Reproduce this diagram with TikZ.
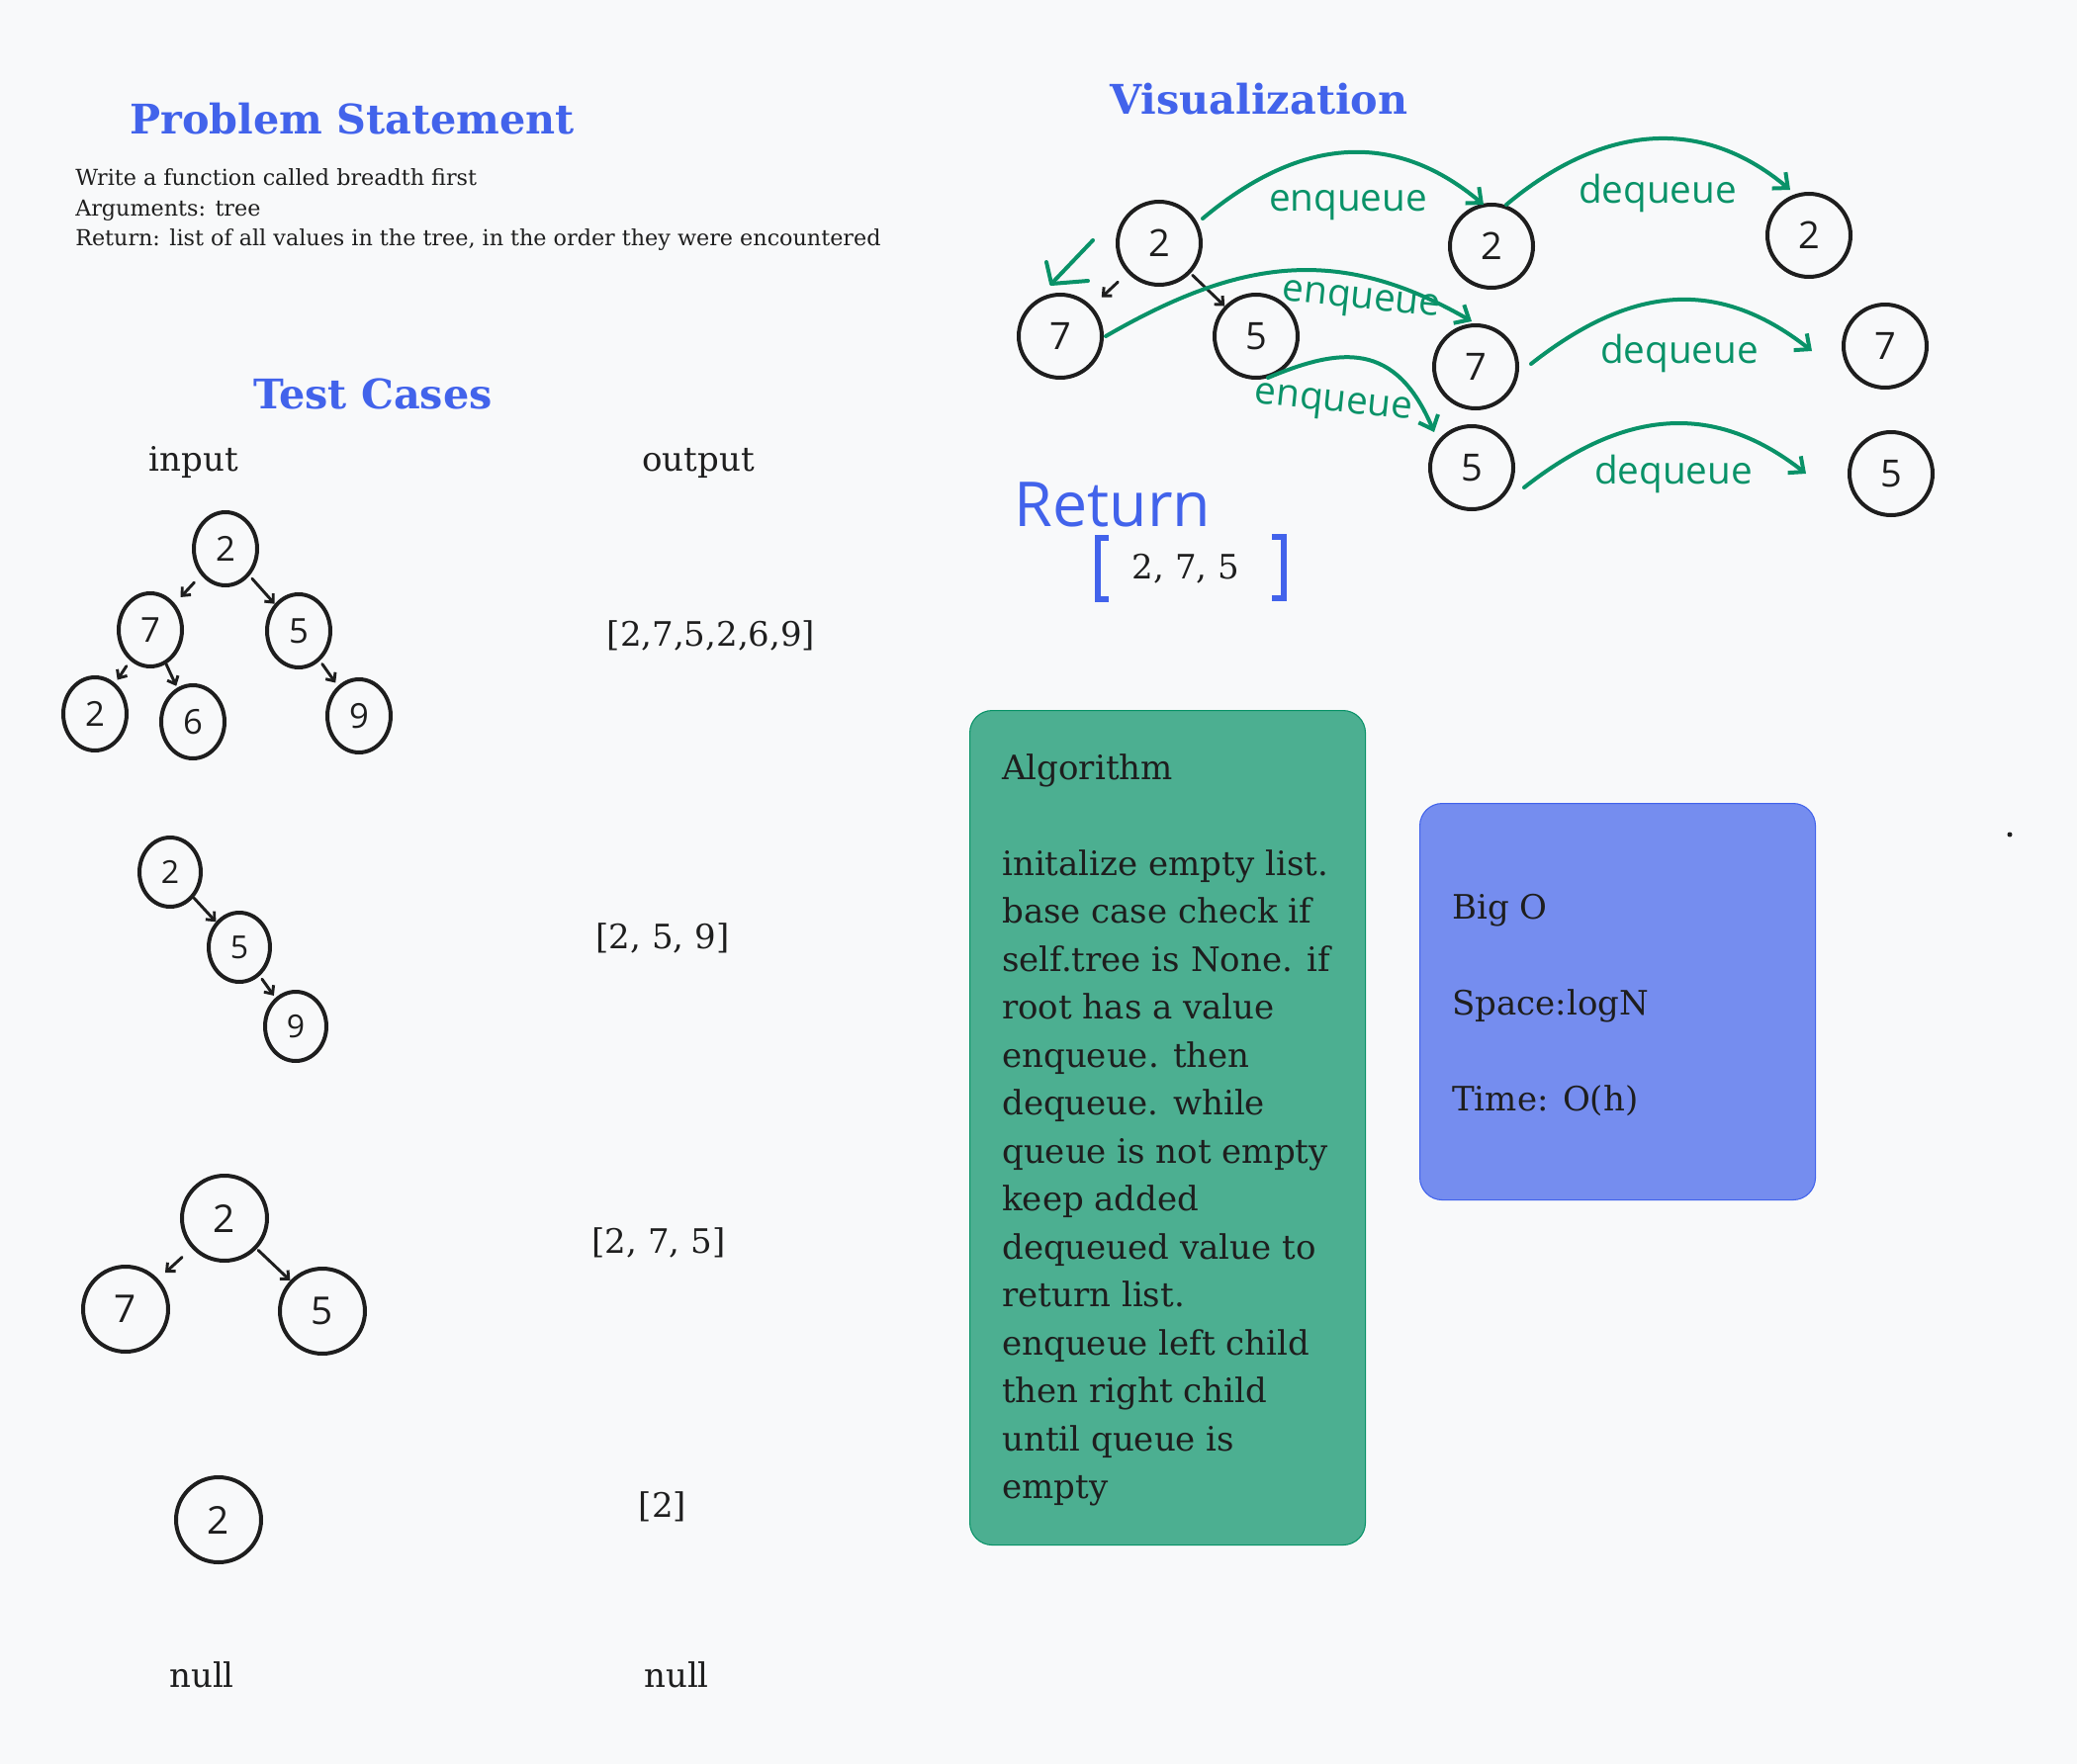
\documentclass[tikz,border=0pt]{standalone}
\usepackage{fontspec}
\setmainfont{DejaVu Serif}
\newfontfamily\headfont{DejaVu Serif}
\newfontfamily\handfont{Open Sans}
\usetikzlibrary{shapes.geometric,arrows.meta,calc}

\definecolor{pagebg}{RGB}{248,249,250}
\definecolor{ink}{RGB}{30,30,30}
\definecolor{headblue}{RGB}{66,99,235}
\definecolor{penteal}{RGB}{9,146,104}

\tikzset{
  bubble/.style={draw=ink, line width=3pt, inner sep=0pt, text=ink},
  tnode/.style={bubble, ellipse, minimum width=48pt, minimum height=55.5pt, font=\handfont\fontsize{26}{26}\selectfont},
  snode/.style={bubble, ellipse, minimum width=46.5pt, minimum height=52.5pt, font=\handfont\fontsize{24}{24}\selectfont},
  bnode/.style={bubble, circle, minimum size=64.5pt, font=\handfont\fontsize{29}{29}\selectfont},
  vnode/.style={bubble, circle, minimum size=63pt, font=\handfont\fontsize{28.5}{28.5}\selectfont},
  kid/.style={draw=ink, line width=2.2pt, line cap=round, -{Straight Barb[length=5pt,width=9pt]}},
  sweep/.style={draw=penteal, line width=3pt, line cap=round, -{Straight Barb[length=9pt,width=16pt]}},
  penline/.style={draw=penteal, line width=3pt, line cap=round, line join=round},
  heading/.style={text=headblue, inner sep=0pt, font=\headfont\bfseries\fontsize{31}{37}\selectfont},
  smalltxt/.style={text=ink, inner sep=0pt, anchor=base west, font=\fontsize{16.7}{24}\selectfont},
  bigtxt/.style={text=ink, inner sep=0pt, anchor=base west, font=\fontsize{25.5}{36}\selectfont},
  scrawl/.style={text=penteal, inner sep=0pt, font=\handfont\fontsize{29}{30}\selectfont},
  algbox/.style={draw=penteal, fill=penteal!72!pagebg, line width=0.8pt, rounded corners=17pt, anchor=north west, inner sep=0pt},
  bigobox/.style={draw=headblue, fill=headblue!72!pagebg, line width=0.8pt, rounded corners=17pt, anchor=north west, inner sep=0pt}
}

\begin{document}
\begin{tikzpicture}[x=0.75pt,y=0.75pt,yscale=-1,xscale=1]
%Shape: Rectangle [page]
\fill[pagebg] (0,0) rectangle (2100,1784);

% Text Node
\node[heading, anchor=base west] (probtitle) at (131,135) {Problem Statement};
\node[smalltxt] (stmt1) at (76,187) {Write a function called breadth first};
\node[smalltxt] (stmt2) at (76,218) {Arguments: tree};
\node[smalltxt] (stmt3) at (76,248) {Return: list of all values in the tree, in the order they were encountered};

% Text Node
\node[heading, anchor=base] (casetitle) at (377,413) {Test Cases};
\node[bigtxt, anchor=base] (inlab) at (196,476) {input};
\node[bigtxt, anchor=base] (outlab) at (706,476) {output};

%Shape: Ellipse [tree 1]
\node[tnode] (ta) at (228,555) {2};
\node[tnode] (tb) at (152,637) {7};
\node[tnode] (tc) at (302,638) {5};
\node[tnode] (td) at (96,722) {2};
\node[tnode] (te) at (195,730) {6};
\node[tnode] (tf) at (363,724) {9};
\draw[kid, shorten <=7.5pt, shorten >=6.5pt] (ta) -- (tb);
\draw[kid, shorten <=3pt] (ta) -- (tc);
\draw[kid, shorten <=5pt, shorten >=3pt] (tb) -- (td);
\draw[kid, shorten >=1.5pt] (tb) -- (te);
\draw[kid, shorten <=3pt, shorten >=3pt] (tc) -- (tf);
\node[bigtxt, anchor=base] (out1) at (719,653) {[2,7,5,2,6,9]};

%Shape: Ellipse [tree 2]
\node[snode] (sa) at (172,882) {2};
\node[snode] (sb) at (242,958) {5};
\node[snode] (sc) at (299,1038) {9};
\draw[kid] (sa) -- (sb);
\draw[kid, shorten <=3pt, shorten >=2pt] (sb) -- (sc);
\node[bigtxt, anchor=base] (out2) at (670,959) {[2, 5, 9]};

%Shape: Circle [tree 3]
\node[bnode] (ba) at (227,1232) {2};
\node[bnode] (bb) at (127,1324) {7};
\node[bnode] (bc) at (326,1326) {5};
\draw[kid, shorten <=10pt, shorten >=7pt] (ba) -- (bb);
\draw[kid, shorten <=1.5pt] (ba) -- (bc);
\node[bigtxt, anchor=base] (out3) at (666,1267) {[2, 7, 5]};

%Shape: Circle [tree 4]
\node[bnode] (lone) at (221,1537) {2};
\node[bigtxt, anchor=base] (out4) at (670,1534) {[2]};

% Text Node
\node[bigtxt, anchor=base] (in5) at (204,1706) {null};
\node[bigtxt, anchor=base] (out5) at (684,1706) {null};

% Text Node
\node[heading, anchor=base west] (viztitle) at (1122,115) {Visualization};

%Shape: Circle [visual tree]
\node[vnode] (vr) at (1172,246) {2};
\node[vnode] (v7) at (1072,340) {7};
\node[vnode] (v5) at (1270,340) {5};
\draw[kid, shorten <=10pt, shorten >=10pt] (vr) -- (v7);
\draw[kid, shorten <=2pt] (vr) -- (v5);

%Shape: Circle [queue]
\node[vnode] (q2) at (1508,249) {2};
\node[vnode] (q7) at (1492,371) {7};
\node[vnode] (q5) at (1488,473) {5};
\node[vnode] (d2) at (1829,238) {2};
\node[vnode] (d7) at (1906,350) {7};
\node[vnode] (d5) at (1912,479) {5};

%Curve Lines
\draw[sweep] ($(vr)+(44,-25)$) .. controls (1310,142) and (1406,128) .. ($(q2)+(-8,-42)$);
\draw[sweep] ($(q2)+(15,-42)$) .. controls (1616,129) and (1717,114) .. ($(d2)+(-19,-46)$);
\draw[sweep] ($(v7)+(46,0)$) .. controls (1253,262) and (1353,247) .. ($(q7)+(-4,-46)$);
\draw[sweep] ($(v5)+(12,42)$) .. controls (1356,351) and (1411,345) .. ($(q5)+(-38,-36)$);
\draw[sweep] ($(q7)+(56,-3)$) .. controls (1646,291) and (1734,278) .. ($(d7)+(-74,5)$);
\draw[sweep] ($(q5)+(53,20)$) .. controls (1638,417) and (1729,403) .. ($(d5)+(-86,0)$);

%Straight Lines [green hint]
\coordinate (hintfrom) at (1105,243);
\coordinate (hintto) at (1063,287);
\draw[penline] (hintfrom) -- (hintto);
\draw[penline] ($(hintto)+(37,-3)$) -- (hintto) -- ++(-5,-22);

% Text Node
\node[scrawl] (enq1) at (1363,208) {enqueue};
\node[scrawl] (deq1) at (1676,195) {dequeue};
\node[scrawl, rotate=-6] (enq2) at (1376,306) {enqueue};
\node[scrawl, rotate=-6] (enq3) at (1348,410) {enqueue};
\node[scrawl] (deq2) at (1698,357) {dequeue};
\node[scrawl] (deq3) at (1692,479) {dequeue};

% Text Node
\node[scrawl, text=headblue, font=\handfont\fontsize{47}{50}\selectfont] (retword) at (1125,510) {Return};
\node[bigtxt, anchor=base] (retlist) at (1199,585) {2, 7, 5};
\draw[headblue, line width=5pt] (1121,544) -- (1110,544) -- (1110,606) -- (1121,606);
\draw[headblue, line width=5pt] (1286,543) -- (1298,543) -- (1298,605) -- (1286,605);

%Shape: Rounded Rectangle
\node[algbox, minimum width=300pt, minimum height=633pt] (algo) at (980,718) {};
\node[bigtxt] (alg0) at (1013,788) {Algorithm};
\foreach \ln [count=\k from 2] in {initalize empty list., base case check if, self.tree is None. if, root has a value, enqueue. then, dequeue. while, queue is not empty, keep added, dequeued value to, return list., enqueue left child, then right child, until queue is, empty}
  \node[bigtxt] (alg\k) at (1013,788+48.5*\k) {\ln};

%Shape: Rounded Rectangle
\node[bigobox, minimum width=300pt, minimum height=300.75pt] (bigo) at (1435,812) {};
\node[bigtxt] (bigotitle) at (1468,929) {Big O};
\node[bigtxt] (bigospace) at (1468,1026) {Space:logN};
\node[bigtxt] (bigotime) at (1468,1123) {Time: O(h)};

%Shape: Dot
\fill[ink] (2032,844) circle (2.5);

\end{tikzpicture}
\end{document}
